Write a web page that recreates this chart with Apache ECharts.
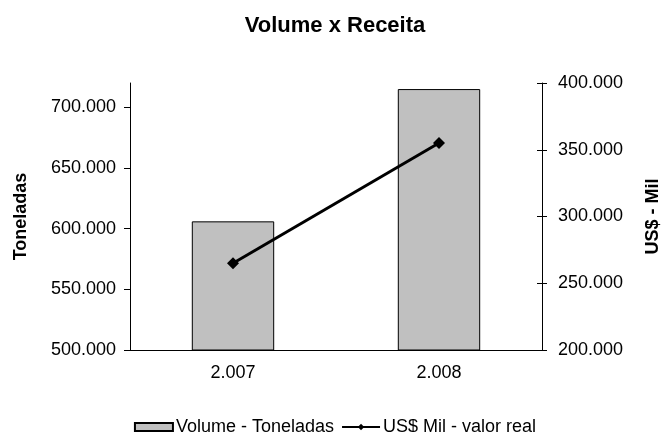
<!DOCTYPE html>
<html>
<head>
<meta charset="utf-8">
<script src="https://cdn.jsdelivr.net/npm/echarts@6/dist/echarts.min.js"></script>
<style>
  html, body { margin: 0; padding: 0; background: #fff; }
  #chart { width: 670px; height: 432px; }
</style>
</head>
<body>
<div id="chart"></div>
<script>
// dados do gráfico
const anos = ['2.007', '2.008']
const volumeToneladas = [606000, 715000]
const receitaMil = [265000, 355000]
const ticksToneladas = [500000, 550000, 600000, 650000, 700000]
const ticksReceita = [200000, 250000, 300000, 350000, 400000]

// formata 700000 -> 700.000
const fmt = v => String(v).replace(/\B(?=(\d{3})+(?!\d))/g, '.')

const font = 'Liberation Sans, Arial, sans-serif'
const chart = echarts.init(document.getElementById('chart'))

const option = {
  animation: false,
  textStyle: { fontFamily: font },
  title: {
    text: 'Volume x Receita',
    left: 'center',
    top: 10,
    textStyle: { fontSize: 22, fontWeight: 'bold', color: '#000', fontFamily: font }
  },
  legend: {
    top: 413,
    left: 'center',
    itemGap: 7,
    itemWidth: 38,
    itemHeight: 8,
    textStyle: { fontSize: 18, color: '#000', fontFamily: font, padding: [0, 0, 0, -2] },
    data: [
      { name: 'Volume - Toneladas', icon: 'rect' },
      { name: 'US$ Mil - valor real' }
    ]
  },
  grid: { left: 130, right: 120, top: 83, bottom: 82 },
  xAxis: [
    {
      type: 'category',
      data: anos,
      axisLine: { lineStyle: { color: '#000', width: 1 } },
      axisTick: { length: 5, lineStyle: { color: '#000' } },
      axisLabel: { color: '#000', fontSize: 18, margin: 14, fontFamily: font }
    },
    {
      type: 'category',
      data: anos,
      position: 'bottom',
      axisLine: { show: false },
      axisTick: { inside: true, length: 5, lineStyle: { color: '#000' } },
      axisLabel: { show: false }
    }
  ],
  yAxis: [
    {
      type: 'value',
      min: 500000,
      max: 720000,
      name: 'Toneladas',
      nameLocation: 'middle',
      nameRotate: 90,
      nameGap: 100,
      nameTextStyle: { fontSize: 18, fontWeight: 'bold', color: '#000', fontFamily: font },
      splitLine: { show: false },
      axisLine: { show: true, lineStyle: { color: '#000' } },
      axisTick: { show: true, length: 6, customValues: ticksToneladas, lineStyle: { color: '#000' } },
      axisLabel: { color: '#000', fontSize: 18, margin: 14, customValues: ticksToneladas, formatter: fmt, fontFamily: font }
    },
    {
      type: 'value',
      min: 200000,
      max: 400000,
      interval: 50000,
      position: 'right',
      name: 'US$ - Mil',
      nameLocation: 'middle',
      nameRotate: 90,
      nameGap: 102,
      nameTextStyle: { fontSize: 18, fontWeight: 'bold', color: '#000', fontFamily: font },
      splitLine: { show: false },
      axisLine: { show: true, lineStyle: { color: '#000' } },
      axisTick: { show: true, length: 5, customValues: ticksReceita, lineStyle: { color: '#000' } },
      axisLabel: { color: '#000', fontSize: 18, margin: 16, customValues: ticksReceita, formatter: fmt, fontFamily: font }
    },
    {
      type: 'value',
      min: 200000,
      max: 400000,
      interval: 50000,
      position: 'right',
      splitLine: { show: false },
      axisLine: { show: false },
      axisTick: { show: true, inside: true, length: 5, customValues: ticksReceita, lineStyle: { color: '#000' } },
      axisLabel: { show: false }
    }
  ],
  series: [
    {
      name: 'Volume - Toneladas',
      type: 'bar',
      yAxisIndex: 0,
      barWidth: '40%',
      data: volumeToneladas,
      itemStyle: { color: '#c0c0c0', borderColor: '#000', borderWidth: 1 }
    },
    {
      name: 'US$ Mil - valor real',
      type: 'line',
      yAxisIndex: 1,
      data: receitaMil,
      symbol: 'diamond',
      symbolSize: 12,
      lineStyle: { color: '#000', width: 3 },
      itemStyle: { color: '#000' }
    }
  ]
}

chart.setOption(option)
</script>
</body>
</html>
